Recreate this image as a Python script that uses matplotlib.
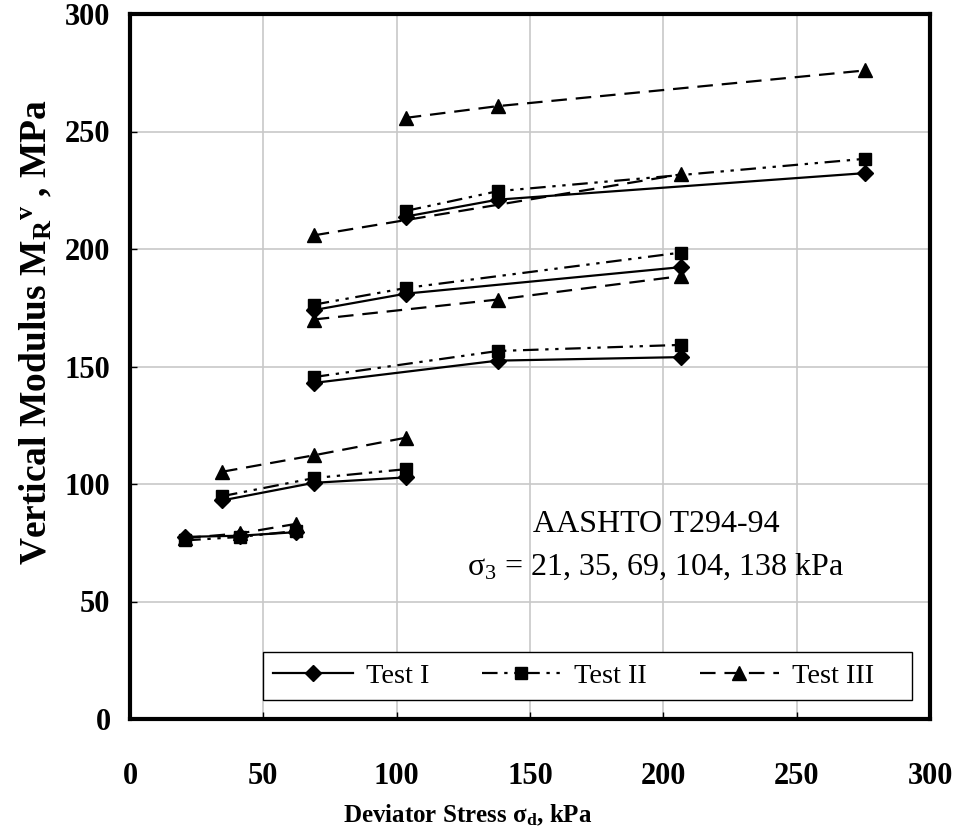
import matplotlib
matplotlib.use("Agg")
import matplotlib.pyplot as plt
from matplotlib.patches import Rectangle

plt.rcParams['font.family'] = ['Liberation Serif', 'DejaVu Serif']
plt.rcParams['mathtext.fontset'] = 'custom'
plt.rcParams['mathtext.rm'] = 'Liberation Serif'
plt.rcParams['mathtext.it'] = 'Liberation Serif:italic'
plt.rcParams['mathtext.bf'] = 'Liberation Serif:bold'

# Deviator stress groups (kPa) and modulus values (MPa)
test1_x = [[20.7, 41.4, 62.1], [34.5, 68.9, 103.4], [68.9, 137.9, 206.8],
           [68.9, 103.4, 206.8], [103.4, 137.9, 275.8]]
test1_y = [[77.5, 78.0, 79.5], [93.0, 100.5, 102.8], [143.0, 152.5, 154.0],
           [174.0, 181.0, 192.3], [213.8, 221.0, 232.3]]

test2_x = [[20.7, 41.4, 62.1], [34.5, 68.9, 103.4], [68.9, 137.9, 206.8],
           [68.9, 103.4, 206.8], [103.4, 137.9, 275.8]]
test2_y = [[76.0, 77.5, 80.0], [94.8, 102.5, 106.3], [145.5, 156.6, 159.2],
           [176.3, 183.4, 198.5], [216.2, 224.6, 238.4]]

test3_x = [[20.7, 41.4, 62.1], [34.5, 68.9, 103.4], [68.9, 137.9, 206.8],
           [68.9, 206.8], [103.4, 137.9, 275.8]]
test3_y = [[77.0, 79.0, 83.0], [105.2, 112.2, 119.7], [170.0, 178.5, 188.5],
           [205.8, 231.8], [255.8, 260.8, 276.0]]

series = [
    ("Test I", test1_x, test1_y, 'D', '-', 8),
    ("Test II", test2_x, test2_y, 's', (0, (7, 3, 1.5, 3, 1.5, 3)), 8),
    ("Test III", test3_x, test3_y, '^', (0, (7, 4)), 10),
]

xticks = [0, 50, 100, 150, 200, 250, 300]
yticks = [0, 50, 100, 150, 200, 250, 300]

W, H = 957, 834
AX_L, AX_R, AX_T, AX_B = 130, 930, 14, 719
AW, AH = AX_R - AX_L, AX_B - AX_T


def axx(px):
    return (px - AX_L) / AW


def axy(py):
    return (AX_B - py) / AH


fig = plt.figure(figsize=(W / 100, H / 100), dpi=100)
ax = fig.add_axes([AX_L / W, 1 - AX_B / H, AW / W, AH / H])

for name, xs, ys, mk, ls, ms in series:
    for i, (gx, gy) in enumerate(zip(xs, ys)):
        ax.plot(gx, gy, color='black', linestyle=ls, linewidth=1.6,
                marker=mk, markersize=ms, markerfacecolor='black',
                markeredgecolor='black', label=name if i == 0 else None,
                zorder=3)

ax.set_xlim(0, 300)
ax.set_ylim(0, 300)
ax.set_xticks(xticks)
ax.set_yticks(yticks)
ax.grid(True, color='#c8c8c8', linewidth=1.2, zorder=0)
ax.set_axisbelow(True)
for s in ax.spines.values():
    s.set_linewidth(3.0)
    s.set_color('black')
ax.tick_params(direction='in', length=5, width=1, labelsize=22)
ax.tick_params(axis='x', pad=31)
ax.tick_params(axis='y', pad=14)
for lbl in ax.get_xticklabels() + ax.get_yticklabels():
    lbl.set_fontweight('bold')

ax.set_xlabel(r"Deviator Stress σ$_\mathbf{d}$, kPa", fontsize=18,
              fontweight='bold', va='center')
ax.xaxis.set_label_coords(axx(468), axy(815))
ax.set_ylabel(r"Vertical Modulus M$_\mathbf{R}$$^\mathbf{v}$ , MPa",
              fontsize=27, fontweight='bold', va='center')
ax.yaxis.set_label_coords(axx(36), axy(332))

ax.text(axx(656), axy(525), "AASHTO T294-94", transform=ax.transAxes,
        fontsize=23, ha='center', va='center')
ax.text(axx(656), axy(567), r"σ$_3$ = 21, 35, 69, 104, 138 kPa",
        transform=ax.transAxes, fontsize=23, ha='center', va='center')

# legend frame (white box across the bottom of the plot)
frame = Rectangle((axx(263), axy(700)), axx(912) - axx(263),
                  axy(652) - axy(700), transform=ax.transAxes,
                  facecolor='white', edgecolor='black', linewidth=1.0,
                  zorder=4, clip_on=False)
ax.add_patch(frame)
leg = ax.legend(loc='center left', bbox_to_anchor=(axx(273), axy(676)),
                ncol=3, fontsize=20.5, frameon=False, borderaxespad=0,
                borderpad=0, handlelength=2.8, handletextpad=0.45,
                columnspacing=1.85)
leg.set_zorder(5)

fig.savefig("out.png", dpi=100)
